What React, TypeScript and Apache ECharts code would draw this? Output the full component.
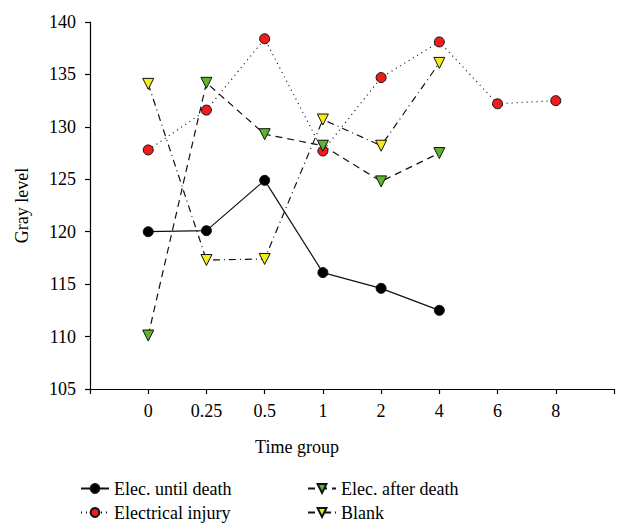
import React, { useEffect, useRef } from "react";
import * as echarts from "echarts";

const categories = ["0", "0.25", "0.5", "1", "2", "4", "6", "8"];
const untilDeath = [120.0, 120.1, 124.9, 116.1, 114.6, 112.5];
const electricalInjury = [127.8, 131.6, 138.4, 127.7, 134.7, 138.1, 132.2, 132.5];
const afterDeath = [110.1, 134.2, 129.3, 128.2, 124.8, 127.5];
const blank = [134.1, 117.3, 117.4, 130.7, 128.2, 136.1];
const yTicks = { min: 105, max: 140, interval: 5 };

const FONT = "'Liberation Serif', 'DejaVu Serif', serif";
const FS = 18;

function pad(values: number[]) {
  const out: (number | null)[] = [null, ...values];
  while (out.length < categories.length + 2) out.push(null);
  return out;
}

export default function App() {
  const ref = useRef<HTMLDivElement>(null);
  useEffect(() => {
    const chart = echarts.init(ref.current!, null, { renderer: "svg" });
    const axisCats = ["", ...categories, ""];
    const mk = (
      name: string,
      data: number[],
      symbol: string,
      color: string,
      type: any,
      rotate = 0
    ) => ({
      name,
      type: "line",
      data: pad(data),
      symbol,
      symbolSize: symbol === "circle" ? 10 : 11,
      symbolRotate: rotate,
      showAllSymbol: true,
      connectNulls: false,
      lineStyle: { color: "#111", width: 1.2, type },
      itemStyle: { color, borderColor: "#111", borderWidth: 1 },
      emphasis: { disabled: true },
    });
    const legendBase = {
      orient: "vertical",
      top: 474,
      height: 120,
      itemWidth: 28,
      itemHeight: 11,
      itemGap: 5,
      textStyle: { color: "#000", fontSize: FS, fontFamily: FONT, lineHeight: 19 },
      selectedMode: false,
    };
    chart.setOption({
      animation: false,
      textStyle: { fontFamily: FONT },
      grid: { left: 90, right: 4, top: 22, bottom: 135, containLabel: false },
      xAxis: {
        type: "category",
        data: axisCats,
        boundaryGap: false,
        axisLine: { lineStyle: { color: "#000", width: 1.2 } },
        axisTick: { show: true, length: 5, interval: 0, lineStyle: { color: "#000", width: 1.2 } },
        axisLabel: { interval: 0, color: "#000", fontSize: FS, fontFamily: FONT, margin: 13 },
        splitLine: { show: false },
      },
      yAxis: {
        type: "value",
        min: yTicks.min,
        max: yTicks.max,
        interval: yTicks.interval,
        name: "Gray level",
        nameLocation: "middle",
        nameGap: 59,
        nameTextStyle: { color: "#000", fontSize: FS, fontFamily: FONT },
        axisLine: { show: true, lineStyle: { color: "#000", width: 1.2 } },
        axisTick: { show: true, length: 5, lineStyle: { color: "#000", width: 1.2 } },
        axisLabel: { color: "#000", fontSize: FS, fontFamily: FONT, margin: 14 },
        splitLine: { show: false },
      },
      legend: [
        { ...legendBase, left: 75, data: ["Elec. until death", "Electrical injury"] },
        { ...legendBase, left: 302, data: ["Elec. after death", "Blank"] },
      ],
      graphic: [
        {
          type: "text",
          x: 297,
          y: 447,
          style: {
            text: "Time group",
            font: `${FS}px ${FONT}`,
            fill: "#000",
            textAlign: "center",
            textVerticalAlign: "middle",
          },
        },
      ],
      series: [
        mk("Elec. until death", untilDeath, "circle", "#000", "solid"),
        mk("Electrical injury", electricalInjury, "circle", "#ee1c1c", [1, 4]),
        mk("Elec. after death", afterDeath, "triangle", "#5fb52e", [7, 5], 180),
        mk("Blank", blank, "triangle", "#f3ec1a", [7, 4, 1, 4], 180),
      ],
    });
    return () => chart.dispose();
  }, []);
  return (
    <div
      ref={ref}
      style={{ position: "fixed", left: 0, top: 0, width: 618, height: 524, background: "#fff" }}
    />
  );
}
